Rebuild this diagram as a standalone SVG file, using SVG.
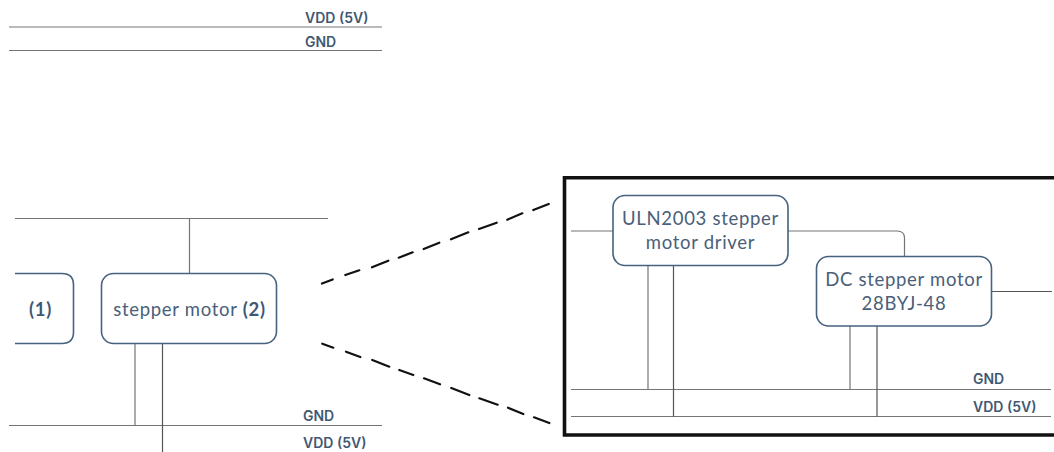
<svg xmlns="http://www.w3.org/2000/svg" width="1054" height="452" viewBox="0 0 1054 452">
<style>
.w{fill:none;stroke:#757575;stroke-width:1.2}
.k{fill:none;stroke:#555;stroke-width:1.2}
.b{fill:#fff;stroke:#46627f;stroke-width:1.6}
.t{font-family:"Lato","Noto Sans",sans-serif;font-size:18.500px;fill:#4a6078;text-anchor:middle;letter-spacing:.7px}
.l{font-family:"Inter","Noto Sans",sans-serif;font-size:14px;font-weight:600;fill:#3f5873}
.n{font-weight:700;fill:#3f5873}
.z{fill:none;stroke:#111;stroke-width:2.200;stroke-linecap:round}
</style>
<rect width="1054" height="452" fill="#fff"/>
<g id="connectors">
<path class="w" d="M9 27H382M9 50.500H382"/>
<path class="w" d="M15 218.500H328M189.500 218.500V273"/>
<path class="w" d="M9 425.500H382M135 343V425.500"/>
<path class="k" d="M162.500 343V452"/>
<path class="w" d="M571 231H613M788 231H897Q904.500 231 904.500 238V256"/>
<path class="k" d="M992 291.500H1052"/>
<path class="w" d="M571 389.500H1051M571 416.500H1051M648 265V389.500M850 326V389.500"/>
<path class="k" d="M673.500 265V416.500M877 326V416.500"/>
<path class="z" d="M322 283.600L332.700 279.400M345.300 275L359.300 270.300M372 267.300L388.300 260.700M398.700 257.700L412.700 252.300M423.700 249L439.300 242.700M451 239.300L468.300 232.300M479 229L496.700 222.700M507.300 219.700L522.300 213.300M533.300 210L548.700 204"/>
<path class="z" d="M322.300 343.700L333.300 347.700M346 351.700L360.300 357M372.300 360L389.300 366.700M399.300 370L413.300 375M424 378.300L440 384.300M451.300 388L469.300 395M479.300 398.300L497.700 404.700M508 407.700L523.300 414M534 417.300L549.300 423"/>
</g>
<g id="node-1">
<path class="b" d="M15 273.500H62Q73.500 273.500 73.500 285V332Q73.500 343.500 62 343.500H15"/>
<text class="t n" x="40.500" y="315.500">(1)</text>
</g>
<g id="node-2">
<rect class="b" x="101.500" y="273.500" width="175" height="70" rx="12"/>
<text class="t" x="189.500" y="315.500">stepper motor <tspan class="n">(2)</tspan></text>
</g>
<g id="zoom-frame"><path fill="none" stroke="#111" stroke-width="3.600" d="M1054 177.800H564.500V435H1054"/></g>
<g id="node-driver">
<rect class="b" x="613" y="195.500" width="175" height="70" rx="12"/>
<text class="t" x="700.500" y="224.500">ULN2003 stepper</text>
<text class="t" x="700.500" y="248.500">motor driver</text>
</g>
<g id="node-motor">
<rect class="b" x="816.500" y="256.500" width="175" height="69.500" rx="12"/>
<text class="t" x="904" y="285.500">DC stepper motor</text>
<text class="t" x="904" y="309.500">28BYJ-48</text>
</g>
<g id="labels">
<text class="l" x="305" y="22.500">VDD (5V)</text>
<text class="l" x="305" y="46.500">GND</text>
<text class="l" x="303" y="420.500">GND</text>
<text class="l" x="303" y="448">VDD (5V)</text>
<text class="l" x="973" y="384">GND</text>
<text class="l" x="973" y="411.500">VDD (5V)</text>
</g>
</svg>
